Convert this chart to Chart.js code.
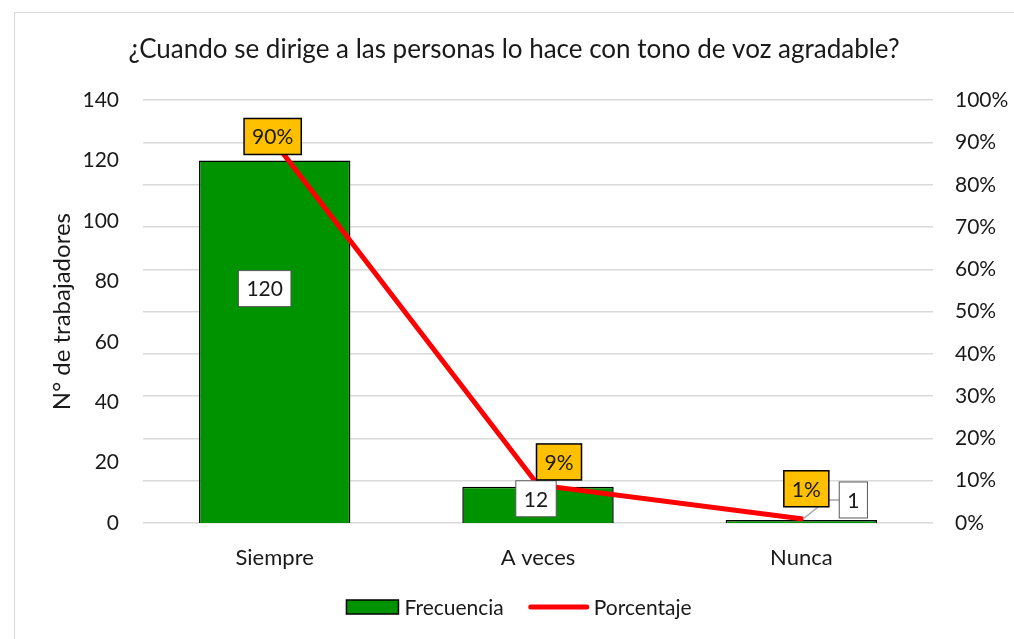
<!DOCTYPE html>
<html>
<head>
<meta charset="utf-8">
<script src="https://cdn.jsdelivr.net/npm/chart.js@4.4.1/dist/chart.umd.min.js"></script>
<style>
html,body{margin:0;padding:0;background:#fff;}
#wrap{width:1014px;height:639px;position:relative;}
</style>
</head>
<body>
<div id="wrap"><canvas id="c" width="1014" height="639"></canvas></div>
<script>
const titleText = '¿Cuando se dirige a las personas lo hace con tono de voz agradable?';
const categories = ['Siempre', 'A veces', 'Nunca'];
const frecuencia = [120, 12, 1];
const porcentaje = [90, 9, 1];
const leftMax = 140, leftStep = 20;
const rightMax = 100, rightStep = 10;
const seriesNames = ['Frecuencia', 'Porcentaje'];

const FONT = 'Lato, "Noto Sans", sans-serif';
const TXT = '#1a1a1a';

function box(ctx, cx, cy, text, fill, stroke, lw) {
  ctx.save();
  ctx.font = '21px ' + FONT;
  const w = ctx.measureText(text).width + 16;
  const h = 36;
  ctx.fillStyle = fill;
  ctx.fillRect(cx - w/2, cy - h/2, w, h);
  ctx.strokeStyle = stroke; ctx.lineWidth = lw;
  ctx.strokeRect(cx - w/2, cy - h/2, w, h);
  ctx.fillStyle = TXT; ctx.textAlign = 'center'; ctx.textBaseline = 'middle';
  ctx.fillText(text, cx, cy + 1);
  ctx.restore();
  return {x: cx - w/2, y: cy - h/2, w, h};
}

const labelsPlugin = {
  id: 'labelsPlugin',
  afterDatasetsDraw(chart) {
    const ctx = chart.ctx;
    const bars = chart.getDatasetMeta(0).data;
    const pts = chart.getDatasetMeta(1).data;
    const barOff = [[-10, 128], [-2, 12], [52, -20]];
    const pctOff = [[-2, -6], [21, -23], [5, -30]];
    const barBoxes = [], pctBoxes = [];
    bars.forEach((b, i) => barBoxes.push([b.x + barOff[i][0], b.y + barOff[i][1]]));
    pts.forEach((p, i) => pctBoxes.push([p.x + pctOff[i][0], p.y + pctOff[i][1]]));
    ctx.save();
    ctx.strokeStyle = '#a6a6a6'; ctx.lineWidth = 1.5;
    const p2 = pts[2];
    ctx.beginPath();
    ctx.moveTo(pctBoxes[2][0] + 12, pctBoxes[2][1] + 18);
    ctx.lineTo(p2.x + 2, p2.y);
    ctx.moveTo(pctBoxes[2][0] + 20, barBoxes[2][1]);
    ctx.lineTo(barBoxes[2][0] - 10, barBoxes[2][1]);
    ctx.stroke();
    ctx.restore();
    bars.forEach((b, i) => box(ctx, barBoxes[i][0], barBoxes[i][1], String(frecuencia[i]), '#ffffff', '#595959', 1));
    pts.forEach((p, i) => box(ctx, pctBoxes[i][0], pctBoxes[i][1], porcentaje[i] + '%', '#ffc000', '#000000', 1.5));
  },
  afterDraw(chart) {
    const ctx = chart.ctx;
    ctx.save();
    ctx.strokeStyle = '#d9d9d9'; ctx.lineWidth = 1;
    ctx.strokeRect(14.5, 12.5, 1200, 800);
    const cy = 607;
    ctx.font = '21px ' + FONT;
    const t1 = ctx.measureText(seriesNames[0]).width;
    const t2 = ctx.measureText(seriesNames[1]).width;
    const total = 52 + 6 + t1 + 23 + 60 + 5 + t2;
    let x = 518 - total/2;
    ctx.fillStyle = '#009300';
    ctx.fillRect(x, cy - 7, 52, 14);
    ctx.strokeStyle = '#000'; ctx.lineWidth = 1.5;
    ctx.strokeRect(x, cy - 7, 52, 14);
    x += 58;
    ctx.fillStyle = TXT; ctx.textBaseline = 'middle'; ctx.textAlign = 'left';
    ctx.fillText(seriesNames[0], x, cy + 1);
    x += t1 + 25;
    ctx.strokeStyle = '#ff0000'; ctx.lineWidth = 5; ctx.lineCap = 'round';
    ctx.beginPath(); ctx.moveTo(x + 2, cy); ctx.lineTo(x + 58, cy); ctx.stroke();
    x += 65;
    ctx.fillText(seriesNames[1], x, cy + 1);
    ctx.restore();
  }
};

new Chart(document.getElementById('c'), {
  type: 'bar',
  data: {
    labels: categories,
    datasets: [
      {
        type: 'bar', label: seriesNames[0], data: frecuencia, yAxisID: 'y',
        backgroundColor: '#009300', borderColor: '#000000', borderWidth: 1.5,
        barPercentage: 0.575, categoryPercentage: 1, order: 2
      },
      {
        type: 'line', label: seriesNames[1], data: porcentaje, yAxisID: 'y1',
        borderColor: '#ff0000', borderWidth: 5, pointRadius: 0, tension: 0,
        order: 1, borderCapStyle: 'round'
      }
    ]
  },
  options: {
    responsive: false,
    animation: false,
    devicePixelRatio: 1,
    layout: { padding: { top: 12, left: 14, right: 0, bottom: 0 } },
    plugins: {
      legend: { display: false },
      tooltip: { enabled: false },
      title: {
        display: true, text: titleText, color: TXT,
        font: { family: FONT, size: 26, weight: 'normal' },
        padding: { top: 22, bottom: 35 }
      }
    },
    scales: {
      x: {
        grid: { display: false }, border: { display: false },
        ticks: { color: TXT, font: { family: FONT, size: 22 }, padding: 14 },
        afterFit(s) { s.height = 116; }
      },
      y: {
        position: 'left', min: 0, max: leftMax,
        grid: { display: false }, border: { display: false },
        ticks: { stepSize: leftStep, color: TXT, font: { family: FONT, size: 21 }, padding: 16 },
        title: { display: true, text: 'N° de trabajadores', color: TXT, font: { family: FONT, size: 24 }, padding: { top: 34, bottom: 0 } },
        afterFit(s) { s.width = 129; }
      },
      y1: {
        position: 'right', min: 0, max: rightMax,
        grid: { color: '#d9d9d9', lineWidth: 1.5, drawTicks: false }, border: { display: false },
        ticks: { stepSize: rightStep, color: TXT, font: { family: FONT, size: 21 }, padding: 22,
          callback: v => v + '%' },
        afterFit(s) { s.width = 81; }
      }
    }
  },
  plugins: [labelsPlugin]
});
</script>
</body>
</html>
